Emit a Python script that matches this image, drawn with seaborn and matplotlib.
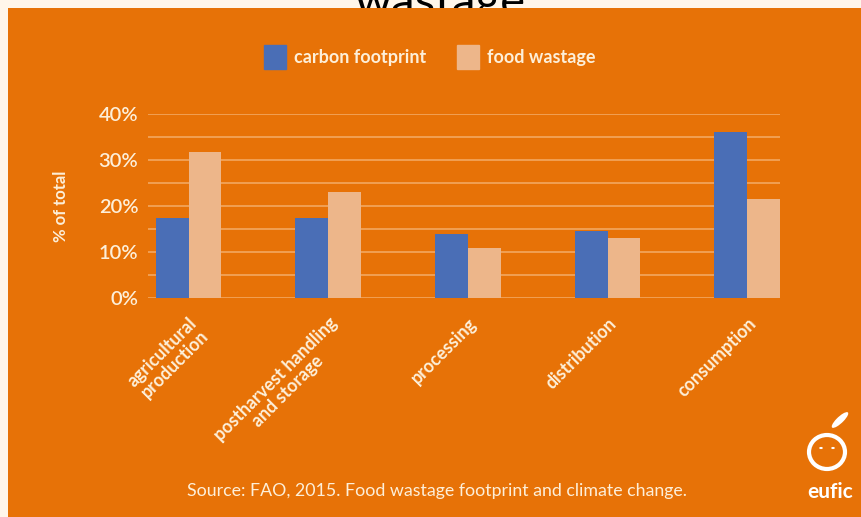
import matplotlib
matplotlib.use("Agg")
import matplotlib.pyplot as plt
import matplotlib.patches as mpatches
import seaborn as sns
import pandas as pd

# data
stages = ['agricultural\nproduction', 'postharvest handling\nand storage',
          'processing', 'distribution', 'consumption']
carbon_footprint = [17.5, 17.5, 14.0, 14.5, 36.0]
food_wastage = [31.8, 23.0, 10.8, 13.0, 21.5]
series = ['carbon footprint', 'food wastage']

df = pd.DataFrame({'stage': stages * 2,
                   'series': [series[0]] * 5 + [series[1]] * 5,
                   'value': carbon_footprint + food_wastage})

ORANGE = '#E77207'
BLUE = '#4A6EB6'
PEACH = '#EDB68A'
CREAM = '#FDEFD9'
GRID = '#F3A861'

sns.set_theme(style='white')
plt.rcParams['font.family'] = ['Lato', 'DejaVu Sans']

W, H = 862, 517
fig = plt.figure(figsize=(W / 100, H / 100), dpi=100)
fig.patch.set_facecolor('#FFF6EA')

# title cut off by the orange panel
fig.text(440 / W, 1 - 3 / H, 'wastage', fontsize=34, color='black',
         ha='center', va='center', zorder=-3)
panel = mpatches.Rectangle((8 / W, 0), 1 - 8 / W, 1 - 8 / H, transform=fig.transFigure,
                           facecolor=ORANGE, edgecolor='none', zorder=-2)
fig.patches.append(panel)

ax = fig.add_axes([148 / W, 1 - 298 / H, (780 - 148) / W, (298 - 114) / H])
ax.set_facecolor('none')

sns.barplot(data=df, x='stage', y='value', hue='series', order=stages,
            hue_order=series, palette=[BLUE, PEACH], width=0.47,
            saturation=1, linewidth=0, ax=ax, legend=False, zorder=3)

ax.set_ylim(0, 40)
ax.set_xlim(-0.29, 4.235)
ax.set_yticks([0, 10, 20, 30, 40])
ax.set_yticklabels(['0%', '10%', '20%', '30%', '40%'], color=CREAM,
                   fontsize=14.5, fontweight='semibold')
for v in range(0, 45, 5):
    ax.axhline(v, color=GRID, lw=1.2, zorder=1)
ax.tick_params(axis='y', length=0, pad=7)
ax.tick_params(axis='x', length=0, pad=12)
ax.set_xticks(range(5))
ax.set_xticklabels(stages, rotation=45, ha='right', va='top',
                   rotation_mode='anchor', color=CREAM, fontsize=12.8,
                   fontweight='bold', multialignment='center', linespacing=1.0)
for s in ax.spines.values():
    s.set_visible(False)
ax.set_xlabel('')
ax.set_ylabel('% of total', color=CREAM, fontsize=12, fontweight='bold')
ax.yaxis.set_label_coords(-0.125, 0.5)

# legend
handles = [mpatches.Patch(color=BLUE, label=series[0]),
           mpatches.Patch(color=PEACH, label=series[1])]
leg = fig.legend(handles=handles, loc='center', bbox_to_anchor=(430 / W, 1 - 57 / H),
                 ncol=2, frameon=False, fontsize=13, handlelength=1.2,
                 handleheight=1.6, columnspacing=1.7, handletextpad=0.45)
for t in leg.get_texts():
    t.set_color(CREAM)
    t.set_fontweight('bold')

fig.text(437 / W, 1 - 491 / H,
         'Source: FAO, 2015. Food wastage footprint and climate change.',
         color=CREAM, fontsize=12.8, ha='center', va='center')

# eufic logo
fig.text(830 / W, 1 - 492 / H, 'eufic', color='white', fontsize=15,
         fontweight='bold', ha='center', va='center')
apple = mpatches.Ellipse((827 / W, 1 - 452 / H), 36 / W, 34 / H, transform=fig.transFigure,
                         facecolor='none', edgecolor='white', lw=3)
fig.patches.append(apple)
stem = mpatches.Ellipse((840 / W, 1 - 420 / H), 8 / W, 18 / H, angle=-30,
                        transform=fig.transFigure, facecolor='white', edgecolor='none')
fig.patches.append(stem)
for dx in (-6, 6):
    dot = mpatches.Circle(((827 + dx) / W, 1 - 448 / H), 1.8 / W, transform=fig.transFigure,
                          facecolor='white', edgecolor='none')
    fig.patches.append(dot)

fig.savefig('out.png', dpi=100, facecolor=fig.get_facecolor())
